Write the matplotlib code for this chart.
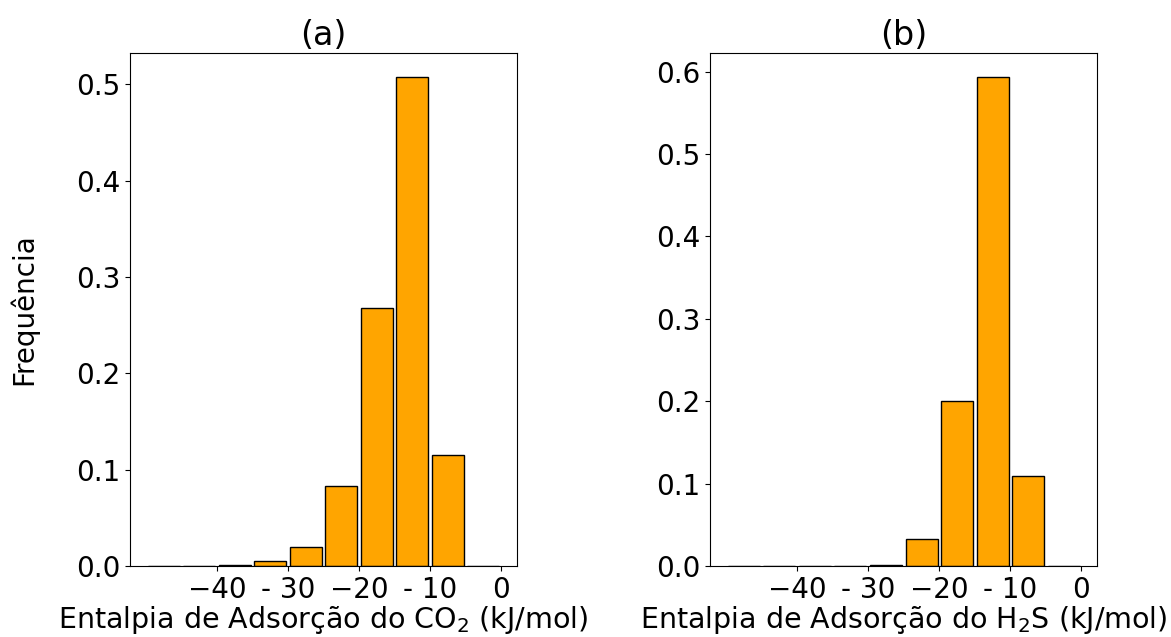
"""Histogramas da entalpia de adsorção (CO2 e H2S)."""

import matplotlib

matplotlib.use("Agg")
import matplotlib.pyplot as plt
import numpy as np

# bordas dos bins (kJ/mol)
bin_edges = [-50, -45, -40, -35, -30, -25, -20, -15, -10, -5, 0]

# frequência relativa por bin
freq_co2 = [0.0, 0.0, 0.001, 0.006, 0.020, 0.083, 0.268, 0.507, 0.115, 0.0]
freq_h2s = [0.0, 0.0, 0.0, 0.0, 0.002, 0.033, 0.200, 0.593, 0.110, 0.0]

tick_pos = [-40, -30, -20, -10, 0]
tick_labels = ["\u221240", "- 30", "\u221220", "- 10", "0"]

panels = [
    ("(a)", freq_co2, "Entalpia de Adsorção do CO$_2$ (kJ/mol)"),
    ("(b)", freq_h2s, "Entalpia de Adsorção do H$_2$S (kJ/mol)"),
]

fig, axes = plt.subplots(1, 2, figsize=(11.71, 6.37), dpi=100)
fig.subplots_adjust(left=0.111, right=0.937, top=0.917, bottom=0.111, wspace=0.5)

centers = (np.array(bin_edges[:-1]) + np.array(bin_edges[1:])) / 2

for ax, (title, freq, xlabel) in zip(axes, panels):
    ax.hist(centers, bins=bin_edges, weights=freq, rwidth=0.9,
            color="orange", edgecolor="black", linewidth=1)
    ax.set_title(title, fontsize=24)
    ax.set_xlabel(xlabel, fontsize=20.5, labelpad=0)
    ax.set_xticks(tick_pos)
    ax.set_xticklabels(tick_labels)
    ax.tick_params(labelsize=20)

axes[0].set_ylabel("Frequência", fontsize=20, labelpad=27)

fig.savefig("out.png", dpi=100)
